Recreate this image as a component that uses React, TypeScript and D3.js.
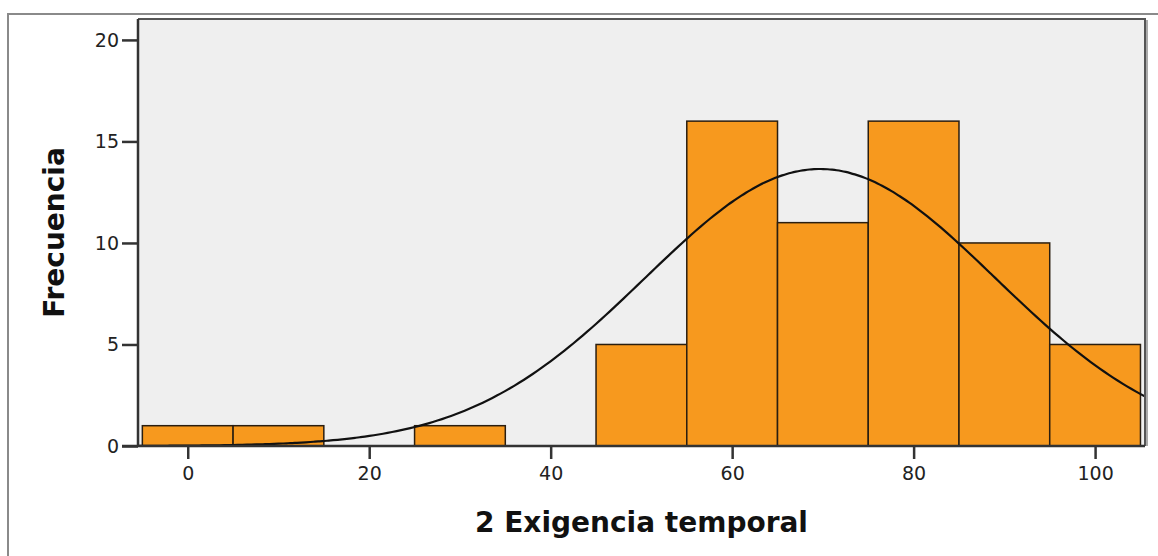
import React, { useEffect, useRef } from 'react';
import * as d3 from 'd3';

const W = 1158;
const H = 556;

// histogram bins (lower edge, width 10) and frequencies
const binStarts = [-5, 5, 15, 25, 35, 45, 55, 65, 75, 85, 95];
const binCounts = [1, 1, 0, 1, 0, 5, 16, 11, 16, 10, 5];
const binWidth = 10;

const xTicks = [0, 20, 40, 60, 80, 100];
const yTicks = [0, 5, 10, 15, 20];

// fitted normal curve (as drawn by SPSS)
const fitMean = 69.7;
const fitSd = 19.3;

const plot = { left: 138, right: 1145, top: 19, bottom: 446 };

export default function App() {
  const ref = useRef<SVGSVGElement>(null);

  useEffect(() => {
    const svg = d3.select(ref.current);
    svg.selectAll('*').remove();

    const x = d3.scaleLinear().domain([-5.48, 105.5]).range([plot.left, plot.right]);
    const y = d3.scaleLinear().domain([0, 21.03]).range([plot.bottom, plot.top]);

    // outer frame
    svg.append('path')
      .attr('d', `M8,${H} L8,14 L${W},14`)
      .attr('fill', 'none')
      .attr('stroke', '#8a8a8a')
      .attr('stroke-width', 2);

    // plot background
    svg.append('rect')
      .attr('x', plot.left)
      .attr('y', plot.top)
      .attr('width', plot.right - plot.left)
      .attr('height', plot.bottom - plot.top)
      .attr('fill', '#efefef');

    svg.append('clipPath').attr('id', 'plotclip')
      .append('rect')
      .attr('x', plot.left)
      .attr('y', plot.top)
      .attr('width', plot.right - plot.left)
      .attr('height', plot.bottom - plot.top);

    const bins = binStarts.map((s, i) => ({ start: s, count: binCounts[i] }))
      .filter(d => d.count > 0);

    svg.append('g')
      .selectAll('rect')
      .data(bins)
      .join('rect')
      .attr('x', d => x(d.start))
      .attr('y', d => y(d.count))
      .attr('width', d => x(d.start + binWidth) - x(d.start))
      .attr('height', d => y(0) - y(d.count))
      .attr('fill', '#f7991e')
      .attr('stroke', '#2a1e10')
      .attr('stroke-width', 1.5);

    // normal curve
    const n = d3.sum(binCounts);
    const dens = (v: number) =>
      n * binWidth / (fitSd * Math.sqrt(2 * Math.PI)) *
      Math.exp(-0.5 * ((v - fitMean) / fitSd) ** 2);
    const xs = d3.range(-5.48, 105.6, 0.5);
    const line = d3.line<number>()
      .x(v => x(v))
      .y(v => y(dens(v)))
      .curve(d3.curveMonotoneX);

    svg.append('path')
      .attr('clip-path', 'url(#plotclip)')
      .attr('d', line(xs))
      .attr('fill', 'none')
      .attr('stroke', '#111')
      .attr('stroke-width', 2.2);

    // plot border (top / right)
    svg.append('path')
      .attr('d', `M${plot.left},${plot.top} L${plot.right},${plot.top} L${plot.right},${plot.bottom}`)
      .attr('fill', 'none')
      .attr('stroke', '#555')
      .attr('stroke-width', 2);
    svg.append('line')
      .attr('x1', plot.right + 2).attr('x2', plot.right + 2)
      .attr('y1', plot.top + 1).attr('y2', plot.bottom)
      .attr('stroke', '#aaa')
      .attr('stroke-width', 2);

    // y axis
    const yAxis = svg.append('g').attr('transform', `translate(${plot.left},0)`);
    yAxis.call(d3.axisLeft(y).tickValues(yTicks).tickSize(16).tickPadding(3).tickFormat(d3.format('d')));
    yAxis.select('.domain')
      .attr('d', `M0,${plot.top}V${plot.bottom}`)
      .attr('stroke', '#333')
      .attr('stroke-width', 2.5);
    yAxis.selectAll('.tick line').attr('stroke', '#333').attr('stroke-width', 2.5);
    yAxis.selectAll('.tick text')
      .attr('font-family', 'DejaVu Sans, sans-serif')
      .attr('font-size', 19)
      .attr('fill', '#222');

    // x axis
    const xAxis = svg.append('g').attr('transform', `translate(0,${plot.bottom})`);
    xAxis.call(d3.axisBottom(x).tickValues(xTicks).tickSize(13).tickPadding(8).tickFormat(d3.format('d')));
    xAxis.select('.domain')
      .attr('d', `M${plot.left - 16},0H${plot.right}`)
      .attr('stroke', '#333')
      .attr('stroke-width', 2.5);
    xAxis.selectAll('.tick line').attr('stroke', '#333').attr('stroke-width', 2.5);
    xAxis.selectAll('.tick text')
      .attr('font-family', 'DejaVu Sans, sans-serif')
      .attr('font-size', 19)
      .attr('fill', '#222');

    // axis titles
    svg.append('text')
      .attr('x', (plot.left + plot.right) / 2)
      .attr('y', 532)
      .attr('text-anchor', 'middle')
      .attr('font-family', 'DejaVu Sans, sans-serif')
      .attr('font-weight', 'bold')
      .attr('font-size', 28)
      .attr('fill', '#111')
      .text('2 Exigencia temporal');

    svg.append('text')
      .attr('transform', `translate(64,${(plot.top + plot.bottom) / 2}) rotate(-90)`)
      .attr('text-anchor', 'middle')
      .attr('font-family', 'DejaVu Sans, sans-serif')
      .attr('font-weight', 'bold')
      .attr('font-size', 28)
      .attr('fill', '#111')
      .text('Frecuencia');
  }, []);

  return (
    <svg
      ref={ref}
      width={W}
      height={H}
      style={{ position: 'absolute', left: 0, top: 0, background: '#fff' }}
    />
  );
}
